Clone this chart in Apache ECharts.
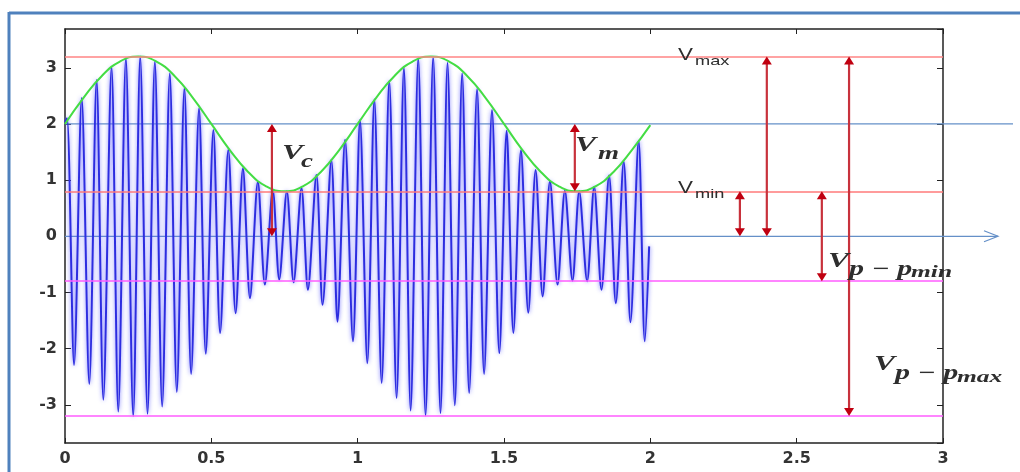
<!DOCTYPE html>
<html><head><meta charset="utf-8">
<script src="https://cdn.jsdelivr.net/npm/echarts@6/dist/echarts.min.js"></script>
<style>html,body{margin:0;padding:0;background:#fff}#c{width:1020px;height:472px}</style>
</head><body><div id="c"></div><script>
// ---- data ----
const xTickLabels = ['0', '0.5', '1', '1.5', '2', '2.5', '3'];
const peakT = [0.007,0.057,0.108,0.159,0.208,0.257,0.307,0.358,0.408,0.458,0.507,0.558,0.608,0.659,0.710,0.758,0.808,0.859,0.910,0.957,
               1.008,1.057,1.108,1.158,1.207,1.258,1.307,1.357,1.408,1.459,1.509,1.558,1.608,1.657,1.708,1.757,1.808,1.859,1.909,1.960];
const peakV = [2.10,2.46,2.78,3.02,3.17,3.20,3.11,2.90,2.64,2.28,1.89,1.54,1.21,0.97,0.82,0.80,0.86,1.09,1.36,1.72,
               2.07,2.44,2.77,3.00,3.17,3.19,3.09,2.90,2.62,2.25,1.88,1.53,1.18,0.98,0.81,0.80,0.88,1.08,1.33,1.70];
const troughT = [0.031,0.083,0.131,0.182,0.233,0.282,0.332,0.382,0.431,0.481,0.530,0.583,0.632,0.683,0.732,0.781,0.830,0.880,0.931,0.984,
                 1.033,1.082,1.133,1.181,1.232,1.283,1.332,1.381,1.432,1.484,1.532,1.583,1.632,1.683,1.734,1.784,1.833,1.882,1.932,1.981];
const troughV = [-2.29,-2.63,-2.91,-3.12,-3.20,-3.16,-3.03,-2.77,-2.45,-2.09,-1.72,-1.37,-1.10,-0.86,-0.77,-0.82,-0.95,-1.22,-1.52,-1.87,
                 -2.26,-2.61,-2.88,-3.10,-3.19,-3.15,-3.01,-2.79,-2.45,-2.08,-1.72,-1.36,-1.07,-0.86,-0.79,-0.80,-0.95,-1.19,-1.53,-1.87];
const waveStart = [0, 2.03];
const waveEnd = [1.996, -0.18];
const envT = [0,0.0625,0.125,0.1875,0.25,0.3125,0.375,0.4375,0.5,0.5625,0.625,0.6875,0.75,0.8125,0.875,0.9375,
              1,1.0625,1.125,1.1875,1.25,1.3125,1.375,1.4375,1.5,1.5625,1.625,1.6875,1.75,1.8125,1.875,1.9375,2];
const envV = [2.00,2.46,2.85,3.11,3.20,3.11,2.85,2.46,2.00,1.54,1.15,0.89,0.80,0.89,1.15,1.54,
              2.00,2.46,2.85,3.11,3.20,3.11,2.85,2.46,2.00,1.54,1.15,0.89,0.80,0.89,1.15,1.54,1.98];
const vMax = 3.2, vC = 2.0, vMin = 0.8;

// ---- build series data ----
const wave = [waveStart.slice()];
for (let i = 0; i < peakT.length; i++) {
  wave.push([peakT[i], peakV[i]]);
  wave.push([troughT[i], troughV[i]]);
}
wave.push(waveEnd.slice());
const envelope = envT.map((t, i) => [t, envV[i]]);

const chart = echarts.init(document.getElementById('c'), null, {renderer: 'canvas'});
const labelFont = {fontFamily: 'DejaVu Sans', fontWeight: 'bold', fontSize: 16, color: '#333'};
const axisCommon = {
  type: 'value',
  axisLine: {show: true, onZero: false, lineStyle: {color: '#222', width: 1.5}},
  splitLine: {show: false}
};
function hline(y, x0, x1, color) {
  return [{coord: [x0, y], lineStyle: {color: color, width: 1.5}}, {coord: [x1, y]}];
}
const option = {
  animation: false,
  backgroundColor: '#fff',
  grid: {left: 65, right: 77, top: 29, bottom: 29, containLabel: false},
  xAxis: [
    Object.assign({}, axisCommon, {position: 'bottom', min: 0, max: 3, interval: 0.5,
      axisTick: {inside: true, length: 5, lineStyle: {color: '#222'}},
      axisLabel: Object.assign({margin: 8, formatter: (v) => xTickLabels[Math.round(v * 2)]}, labelFont)}),
    Object.assign({}, axisCommon, {position: 'top', min: 0, max: 3, interval: 0.5,
      axisTick: {inside: true, length: 5, lineStyle: {color: '#222'}}, axisLabel: {show: false}})
  ],
  yAxis: [
    Object.assign({}, axisCommon, {position: 'left', min: -3.68, max: 3.69, splitNumber: 7,
      axisTick: {inside: true, length: 6, lineStyle: {color: '#222'}},
      axisLabel: Object.assign({margin: 8, showMinLabel: false, showMaxLabel: false}, labelFont)}),
    Object.assign({}, axisCommon, {position: 'right', min: -3.68, max: 3.69, splitNumber: 7,
      axisTick: {inside: true, length: 6, lineStyle: {color: '#222'}}, axisLabel: {show: false}})
  ],
  series: [
    {
      name: 'levels', type: 'line', data: [[0, 0]], symbol: 'none', lineStyle: {opacity: 0}, z: 1, silent: true,
      markLine: {
        silent: true, symbol: ['none', 'none'], label: {show: false},
        lineStyle: {type: 'solid'},
        data: [
          hline(vMax, 0, 3, '#ff8484'),
          hline(vMin, 0, 3, '#ff7a7a'),
          hline(-vMin, 0, 3, '#ff5cff'),
          hline(-vMax, 0, 3, '#ff5cff')
        ]
      }
    },
    {
      name: 'wave', type: 'line', data: wave, showSymbol: false, symbol: 'none', smooth: 0.3, z: 2,
      lineStyle: {color: '#2d2de0', width: 2, shadowColor: 'rgba(100,100,255,0.9)', shadowBlur: 4}
    },
    {
      name: 'envelope', type: 'line', data: envelope, showSymbol: false, symbol: 'none', smooth: true, z: 3,
      lineStyle: {color: '#44dd44', width: 2}
    }
  ]
};
chart.setOption(option);

const px = (x) => chart.convertToPixel({xAxisIndex: 0}, x);
const py = (y) => chart.convertToPixel({yAxisIndex: 0}, y);
const blue = '#6590c8';
const arrowRed = '#c8323c', headRed = '#c00010';
function arrow(xv, yTopV, yBotV) {
  const x = px(xv), yt = py(yTopV), yb = py(yBotV);
  return [
    {type: 'line', z: 15, shape: {x1: x, y1: yt + 4, x2: x, y2: yb - 4}, style: {stroke: arrowRed, lineWidth: 2.2}},
    {type: 'polygon', z: 16, shape: {points: [[x, yt], [x - 5, yt + 8], [x + 5, yt + 8]]}, style: {fill: headRed}},
    {type: 'polygon', z: 16, shape: {points: [[x, yb], [x - 5, yb - 8], [x + 5, yb - 8]]}, style: {fill: headRed}}
  ];
}
function T(s, x, y, family, size, italic, bold, sx) {
  return {type: 'text', x: x, y: y, scaleX: sx || 1.4, z: 20,
    style: {text: s, fill: '#2e2e2e', fontFamily: family, fontSize: size, fontStyle: italic ? 'italic' : 'normal',
      fontWeight: bold ? 'bold' : 'normal', verticalAlign: 'middle', align: 'left'}};
}
const serif = 'Liberation Serif', sans = 'Liberation Sans';
const y2 = py(vC), y0 = py(0), xL = px(0);
chart.setOption({
  graphic: [].concat(
    [
      {type: 'line', z: 1, shape: {x1: xL, y1: y2, x2: 1013, y2: y2}, style: {stroke: blue, lineWidth: 1.2}},
      {type: 'line', z: 1, shape: {x1: xL, y1: y0, x2: 998, y2: y0}, style: {stroke: blue, lineWidth: 1.2}},
      {type: 'polyline', z: 1, shape: {points: [[984, y0 - 5.5], [998, y0], [984, y0 + 5.5]]}, style: {stroke: blue, lineWidth: 1.2, fill: null}},
      {type: 'line', z: 30, shape: {x1: 9, y1: 13, x2: 1020, y2: 13}, style: {stroke: '#4f81bd', lineWidth: 3}},
      {type: 'line', z: 30, shape: {x1: 9, y1: 12, x2: 9, y2: 472}, style: {stroke: '#4f81bd', lineWidth: 3}}
    ],
    arrow(0.707, vC, 0),
    arrow(1.742, vC, vMin),
    arrow(2.306, vMin, 0),
    arrow(2.398, vMax, 0),
    arrow(2.586, vMin, -vMin),
    arrow(2.679, vMax, -vMax),
    [
      T('V', 678, 56, sans, 16, false, false), T('max', 695, 61, sans, 13, false, false),
      T('V', 678, 189, sans, 16, false, false), T('min', 695, 194, sans, 13, false, false),
      T('V', 282, 154, serif, 21, true, true, 1.5), T('c', 301, 162, serif, 18, true, true, 1.5),
      T('V', 575, 146, serif, 21, true, true, 1.5), T('m', 598, 154, serif, 18, true, true, 1.5),
      T('V', 828, 262, serif, 21, true, true, 1.5), T('p \u2212 p', 849, 270, serif, 20, true, true, 1.5), T('min', 911, 273, serif, 17, true, true, 1.5),
      T('V', 874, 365, serif, 21, true, true, 1.5), T('p \u2212 p', 895, 374, serif, 20, true, true, 1.5), T('max', 957, 378, serif, 17, true, true, 1.5)
    ]
  )
});
</script></body></html>
